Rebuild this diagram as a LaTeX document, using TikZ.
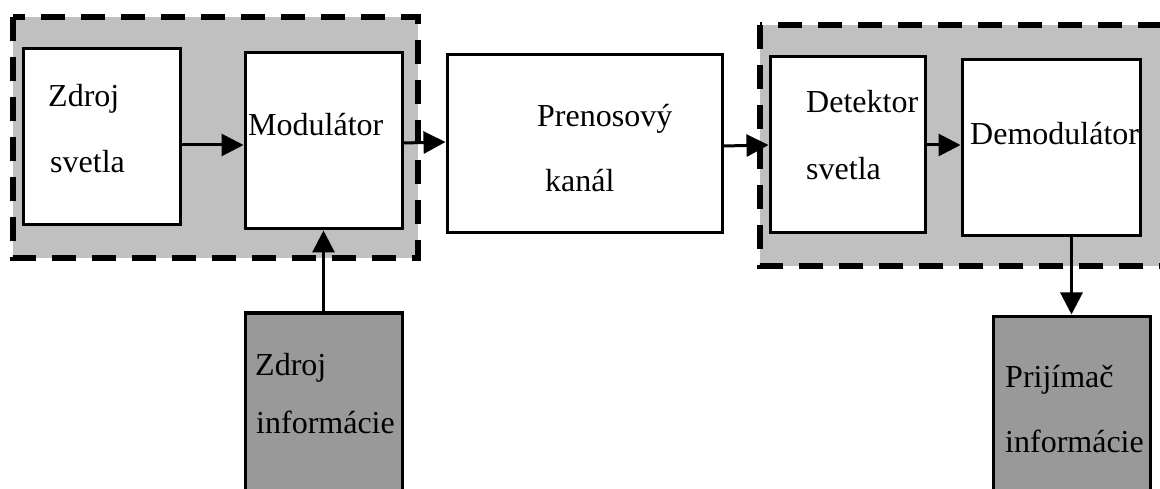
\documentclass[tikz,border=0pt]{standalone}
\usepackage{fontspec}
\setmainfont{Liberation Serif}
\usetikzlibrary{arrows.meta}
\definecolor{grouphue}{RGB}{192,192,192}
\definecolor{infohue}{RGB}{153,153,153}
\tikzset{
  groupbox/.style={fill=grouphue, draw=black, line width=5.5pt, dash pattern=on 24pt off 16pt},
  blockbox/.style={draw=black, fill=white, line width=3pt, inner sep=0pt},
  infobox/.style={draw=black, fill=infohue, line width=3pt, inner sep=0pt},
  lbl/.style={anchor=base west, inner sep=0pt, font=\fontsize{32}{38}\selectfont},
  arr/.style={line width=3pt, -{Triangle[length=22pt,width=22pt]}}
}
\begin{document}
\begin{tikzpicture}[x=1pt,y=-1pt]
\useasboundingbox (0,0) rectangle (1160,489);
\fill[white] (0,0) rectangle (1160,489);

% transmitter group and receiver group backgrounds
\draw[groupbox] (13,17) rectangle (418,258);
\draw[groupbox] (760,25) rectangle (1180,266);

% blocks
\node[blockbox, minimum width=157pt, minimum height=176pt] (zs) at (101.5,137) {};
\node[blockbox, minimum width=157pt, minimum height=176pt] (mod) at (323.5,141) {};
\node[blockbox, minimum width=275pt, minimum height=178pt] (pk) at (584.5,144) {};
\node[blockbox, minimum width=155pt, minimum height=176pt] (det) at (847.5,145) {};
\node[blockbox, minimum width=178pt, minimum height=176pt] (dem) at (1051,148) {};
\node[infobox, minimum width=157pt, minimum height=200pt] (zi) at (323.5,413) {};
\node[infobox, minimum width=157pt, minimum height=200pt] (pr) at (1071.5,416) {};

% labels
\node[lbl] (t1) at (48,107) {Zdroj};
\node[lbl] (t2) at (50,173) {svetla};
\node[lbl] (t3) at (248,136) {Modulátor};
\node[lbl] (t4) at (537,127) {Prenosový};
\node[lbl] (t5) at (545,192) {kanál};
\node[lbl] (t6) at (806,113) {Detektor};
\node[lbl] (t7) at (806,180) {svetla};
\node[lbl] (t8) at (970,145) {Demodulátor};
\node[lbl] (t9) at (255,375) {Zdroj};
\node[lbl] (t10) at (256,433) {informácie};
\node[lbl] (t11) at (1005,387) {Prijímač};
\node[lbl] (t12) at (1005,452) {informácie};

% connectors
\draw[arr] ([yshift=-8pt]zs.east) -- ([yshift=-4pt]mod.west);
\draw[arr] ([yshift=-2pt]mod.east) -- ([yshift=2pt]pk.west);
\draw[arr] ([yshift=-2pt]pk.east) -- (det.west);
\draw[arr] (det.east) -- ([yshift=3pt]dem.west);
\draw[arr] (zi.north) -- (mod.south);
\draw[arr] (dem.south -| pr.north) -- (pr.north);
\end{tikzpicture}
\end{document}
